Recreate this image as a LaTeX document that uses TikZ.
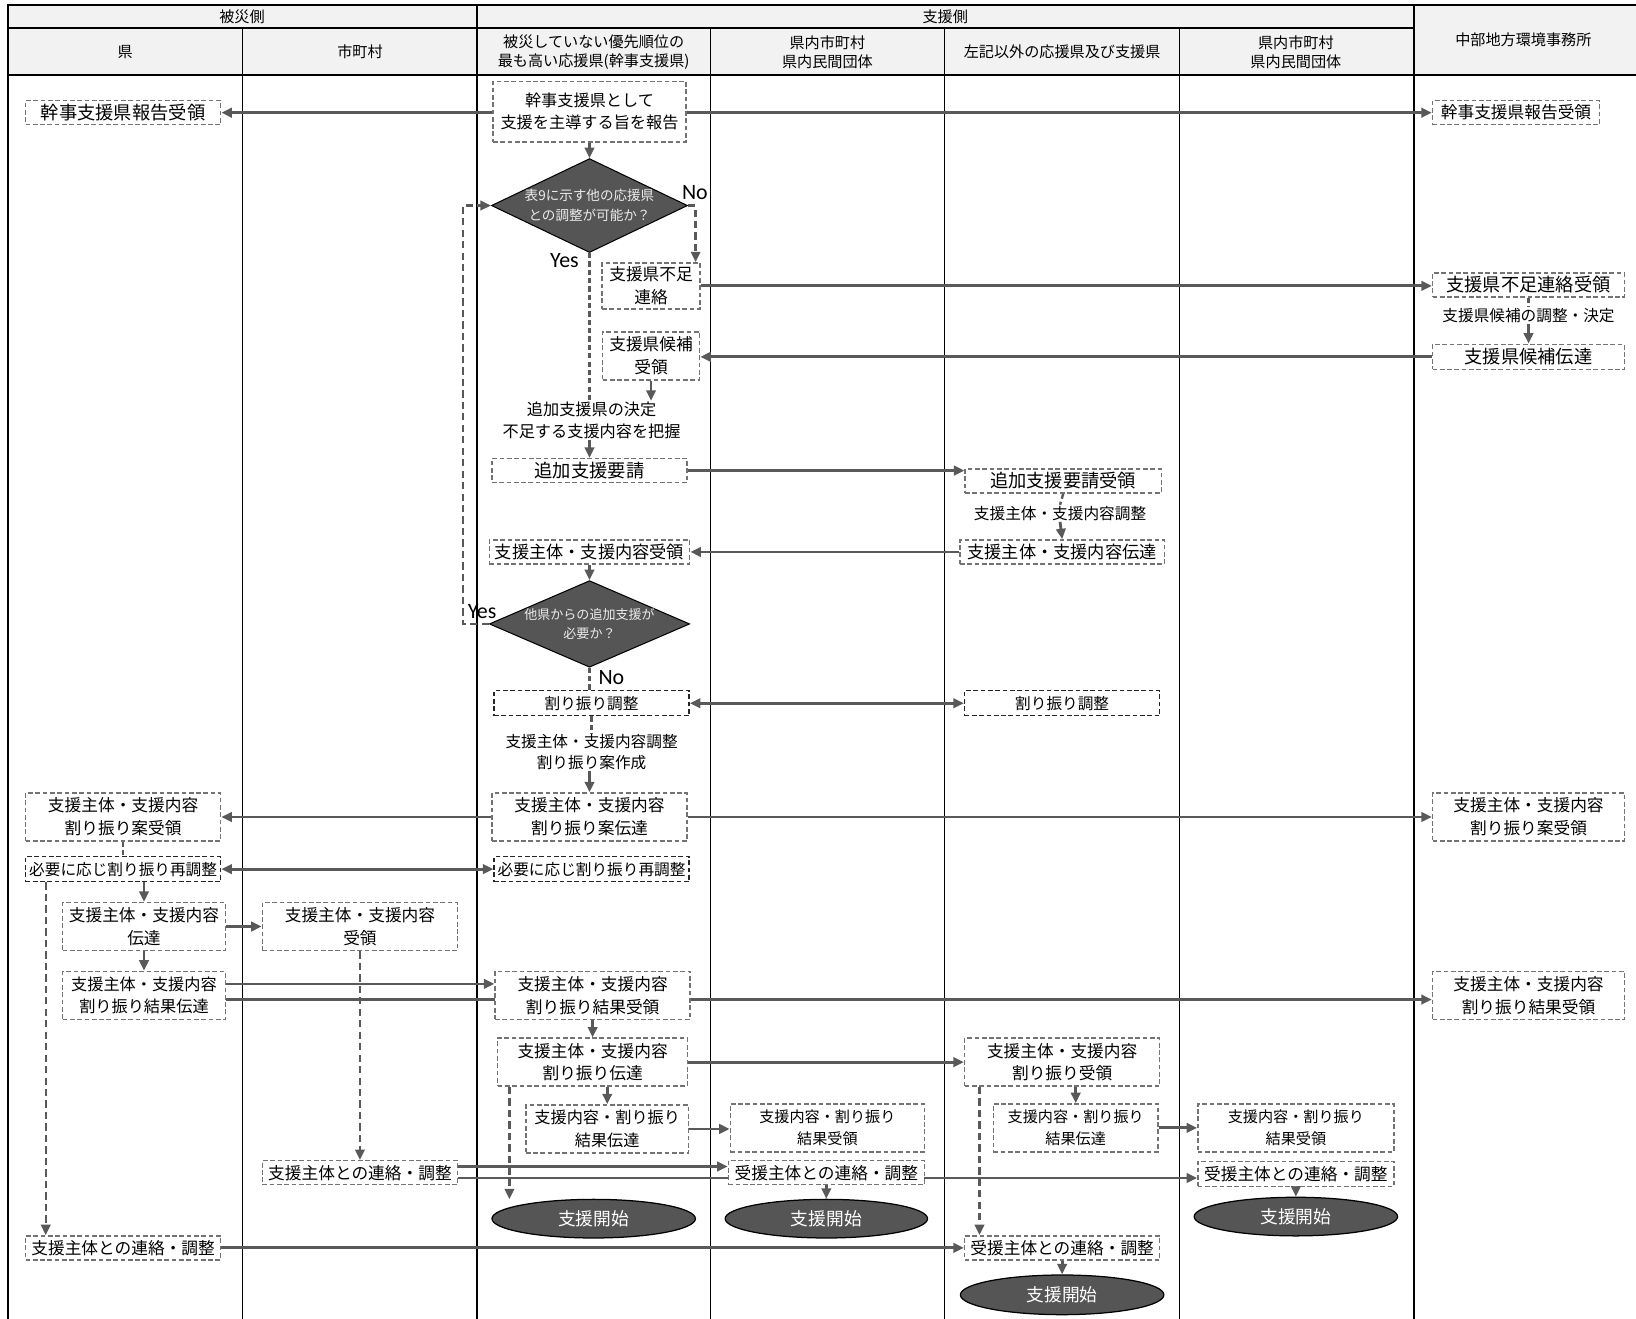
\documentclass[tikz,border=0pt]{standalone}
\usepackage{fontspec}
\setmainfont{Noto Sans CJK JP}
\newfontfamily\latinfont{Carlito}
\usepackage{tikz}
\usetikzlibrary{shapes.geometric}
\usetikzlibrary{arrows.meta}
\usetikzlibrary{backgrounds}
\definecolor{LineGray}{RGB}{89,89,89}
\definecolor{BoxGray}{RGB}{115,115,115}
\definecolor{DarkFill}{RGB}{85,85,85}
\definecolor{HeadFill}{RGB}{242,242,242}
\tikzstyle{Lane}=[black,line width=0.9pt]
\tikzstyle{LaneBold}=[black,line width=2pt]
\tikzstyle{HeadText}=[align=center,inner sep=1pt,font=\fontsize{14.5}{19}\selectfont]
\tikzstyle{StepBox}=[draw=BoxGray,dash pattern=on 4.5pt off 2.5pt,line width=1.4pt,fill=white,
align=center,inner sep=1pt,font=\fontsize{16}{22}\selectfont]
\tikzstyle{KeyBox}=[StepBox,draw=black!85,font=\fontsize{15}{20}\selectfont]
\tikzstyle{BigText}=[font=\fontsize{17.5}{22}\selectfont]
\tikzstyle{SmallText}=[font=\fontsize{14.5}{21}\selectfont]
\tikzstyle{NoteText}=[align=center,inner sep=1pt,font=\fontsize{15}{20}\selectfont]
\tikzstyle{Decision}=[diamond,draw=black,line width=1pt,fill=DarkFill,inner sep=0pt]
\tikzstyle{DecText}=[text=white!92!black,align=center,font=\fontsize{13}{19}\selectfont]
\tikzstyle{Terminal}=[ellipse,draw=black,line width=1.2pt,fill=DarkFill,text=white,
font=\fontsize{17}{20}\selectfont,minimum width=195pt,minimum height=37pt]
\tikzstyle{YesNo}=[inner sep=0pt,font=\latinfont\fontsize{21}{22}\selectfont]
\tikzstyle{Flow}=[LineGray,line width=2.7pt,-{Triangle[length=10pt,width=9pt]}]
\tikzstyle{FlowBoth}=[Flow,{Triangle[length=10pt,width=9pt]}-{Triangle[length=10pt,width=9pt]}]
\tikzstyle{FlowDash}=[LineGray,line width=2.3pt,dash pattern=on 7pt off 4pt,-{Triangle[length=10pt,width=9pt]}]
\tikzstyle{Tie}=[LineGray,line width=2.3pt,dash pattern=on 5pt off 3pt]

\begin{document}
\begin{tikzpicture}[x=1pt,y=-1pt]
        \useasboundingbox(0,0)rectangle(1568,1264);
        \begin{pgfonlayer}{background}
        \fill[HeadFill](8,5)rectangle(1568,72);
        \draw[Lane](232,27)--(232,1264) (681,27)--(681,1264) (905,27)--(905,1264) (1130,27)--(1130,1264);
        \draw[LaneBold](8,1264)--(8,5)--(1568,5) (8,27)--(1355,27) (8,72)--(1568,72)
            (457,5)--(457,1264) (1355,5)--(1355,1264);
        \end{pgfonlayer}
        \node[HeadText](hHisai)at(232,16){被災側};
        \node[HeadText](hShien)at(906,16){支援側};
        \node[HeadText](hKen)at(120,50){県};
        \node[HeadText](hShi)at(345,50){市町村};
        \node[HeadText](hKanji)at(569,50){被災していない優先順位の\\最も高い応援県(幹事支援県)};
        \node[HeadText](hNaiA)at(793,50){県内市町村\\県内民間団体};
        \node[HeadText](hOther)at(1018,50){左記以外の応援県及び支援県};
        \node[HeadText](hNaiB)at(1242,50){県内市町村\\県内民間団体};
        \node[HeadText](hChubu)at(1460,38){中部地方環境事務所};
        \node[StepBox,BigText,minimum width=187pt,minimum height=23pt](kRep)at(118,108){幹事支援県報告受領};
        \node[StepBox,font=\fontsize{15.5}{21}\selectfont,minimum width=185pt,minimum height=58pt](aLead)at(565,107){幹事支援県として\\支援を主導する旨を報告};
        \node[StepBox,font=\fontsize{16}{22}\selectfont,minimum width=160pt,minimum height=23pt](cRep)at(1453,108){幹事支援県報告受領};
        \node[Decision,minimum width=188pt,minimum height=90pt,label={[DecText]center:表9に示す他の応援県\\との調整が可能か？}](qOther)at(565,197){};
        \node[StepBox,minimum width=94pt,minimum height=44pt](aShort)at(624,274){支援県不足\\連絡};
        \node[StepBox,minimum width=93pt,minimum height=46pt](aCand)at(624,341){支援県候補\\受領};
        \node[StepBox,BigText,minimum width=184pt,minimum height=23pt](cShort)at(1465,273){支援県不足連絡受領};
        \node[NoteText](cAdj)at(1465,302){支援県候補の調整・決定};
        \node[StepBox,BigText,minimum width=184pt,minimum height=24pt](cCand)at(1465,342){支援県候補伝達};
        \node[NoteText,font=\fontsize{15.5}{21}\selectfont](aDecide)at(567,403){追加支援県の決定\\不足する支援内容を把握};
        \node[StepBox,BigText,minimum width=187pt,minimum height=23pt](aReq)at(565,451){追加支援要請};
        \node[StepBox,BigText,minimum width=188pt,minimum height=23pt](oReq)at(1019,461){追加支援要請受領};
        \node[NoteText](oAdj)at(1016,492){支援主体・支援内容調整};
        \node[StepBox,font=\fontsize{16.5}{22}\selectfont,minimum width=196pt,minimum height=23pt](oSend)at(1018,529){支援主体・支援内容伝達};
        \node[StepBox,font=\fontsize{16.5}{22}\selectfont,minimum width=192pt,minimum height=23pt](aRecv)at(565,529){支援主体・支援内容受領};
        \node[Decision,minimum width=192pt,minimum height=83pt,label={[DecText,font=\fontsize{12.5}{19}\selectfont]center:他県からの追加支援が\\必要か？}](qMore)at(565,598){};
        \node[KeyBox,minimum width=187pt,minimum height=24pt](aAlloc)at(567,674){割り振り調整};
        \node[KeyBox,minimum width=187pt,minimum height=24pt](oAlloc)at(1018,674){割り振り調整};
        \node[NoteText](aPlan)at(567,721){支援主体・支援内容調整\\割り振り案作成};
        \node[StepBox,minimum width=187pt,minimum height=46pt](aPlanSend)at(565,783){支援主体・支援内容\\割り振り案伝達};
        \node[StepBox,minimum width=187pt,minimum height=46pt](kPlanRecv)at(118,783){支援主体・支援内容\\割り振り案受領};
        \node[StepBox,minimum width=184pt,minimum height=46pt](cPlanRecv)at(1465,783){支援主体・支援内容\\割り振り案受領};
        \node[KeyBox,minimum width=187pt,minimum height=24pt](kReAdj)at(118,833){必要に応じ割り振り再調整};
        \node[KeyBox,minimum width=187pt,minimum height=24pt](aReAdj)at(567,833){必要に応じ割り振り再調整};
        \node[StepBox,minimum width=156pt,minimum height=46pt](kSend)at(138,888){支援主体・支援内容\\伝達};
        \node[StepBox,minimum width=187pt,minimum height=46pt](mRecv)at(345,888){支援主体・支援内容\\受領};
        \node[StepBox,font=\fontsize{15.5}{22}\selectfont,minimum width=156pt,minimum height=46pt](kResSend)at(138,954){支援主体・支援内容\\割り振り結果伝達};
        \node[StepBox,minimum width=187pt,minimum height=46pt](aResRecv)at(568,954){支援主体・支援内容\\割り振り結果受領};
        \node[StepBox,minimum width=184pt,minimum height=46pt](cResRecv)at(1465,954){支援主体・支援内容\\割り振り結果受領};
        \node[StepBox,minimum width=182pt,minimum height=46pt](aAllocSend)at(568,1018){支援主体・支援内容\\割り振り伝達};
        \node[StepBox,minimum width=187pt,minimum height=46pt](oAllocRecv)at(1018,1018){支援主体・支援内容\\割り振り受領};
        \node[StepBox,font=\fontsize{15.5}{22}\selectfont,minimum width=156pt,minimum height=46pt](aResSend)at(582,1082){支援内容・割り振り\\結果伝達};
        \node[StepBox,SmallText,minimum width=186pt,minimum height=46pt](nResRecvA)at(793,1081){支援内容・割り振り\\結果受領};
        \node[StepBox,SmallText,minimum width=158pt,minimum height=46pt](oResSend)at(1031,1081){支援内容・割り振り\\結果伝達};
        \node[StepBox,SmallText,minimum width=188pt,minimum height=46pt](nResRecvB)at(1242,1081){支援内容・割り振り\\結果受領};
        \node[StepBox,minimum width=187pt,minimum height=23pt](mLiaison)at(345,1124){支援主体との連絡・調整};
        \node[StepBox,minimum width=188pt,minimum height=23pt](nLiaisonA)at(792,1124){受援主体との連絡・調整};
        \node[StepBox,minimum width=188pt,minimum height=24pt](nLiaisonB)at(1242,1125){受援主体との連絡・調整};
        \node[Terminal](aStart)at(569,1168){支援開始};
        \node[Terminal,minimum width=194pt](nStartA)at(792,1168){支援開始};
        \node[Terminal](nStartB)at(1242,1166){支援開始};
        \node[StepBox,minimum width=187pt,minimum height=23pt](kLiaison)at(118,1196){支援主体との連絡・調整};
        \node[StepBox,minimum width=187pt,minimum height=23pt](oLiaison)at(1018,1196){受援主体との連絡・調整};
        \node[Terminal,minimum height=38pt](oStart)at(1018,1241){支援開始};
        \node[YesNo](lNoA)at(666,185){No};
        \node[YesNo](lYesA)at(541,250){Yes};
        \node[YesNo](lYesB)at(462,586){Yes};
        \node[YesNo](lNoB)at(586,649){No};
        \begin{pgfonlayer}{background}
        \draw[Flow](aLead.west|-kRep)--(kRep.east);
        \draw[Flow](aLead.east|-cRep)--(cRep.west);
        \draw[Flow](aLead.south)--(qOther.north);
        \draw[FlowDash](qOther.east)-|([xshift=-5pt]aShort.north east);
        \draw[Tie](qOther.south)--(qOther.south|-aDecide.north);
        \draw[Flow](aShort.east)--(aShort.east-|cShort.west);
        \draw[Tie](cShort.south)--(cAdj.north);
        \draw[Flow](cAdj.south)--(cCand.north);
        \draw[Flow](cCand.west)--(cCand.west-|aCand.east);
        \draw[Flow](aCand.south)--(aCand.south|-aDecide.north);
        \draw[Flow](aDecide.south-|aReq)--(aReq.north);
        \draw[Flow](aReq.east)--(aReq.east-|oReq.west);
        \draw[Tie](oReq.south)--(oAdj.north);
        \draw[Flow](oAdj.south)--(oSend.north);
        \draw[Flow](oSend.west)--(aRecv.east);
        \draw[Flow](aRecv.south)--(qMore.north);
        \draw[FlowDash](qMore.west)--++(-25,0)|-(qOther.west);
        \draw[Tie](qMore.south)--(qMore.south|-aAlloc.north);
        \draw[FlowBoth](aAlloc.east)--(oAlloc.west);
        \draw[Tie](aAlloc.south)--(aAlloc.south|-aPlan.north);
        \draw[Flow](aPlan.south-|aPlanSend)--(aPlanSend.north);
        \draw[Flow](aPlanSend.west)--(kPlanRecv.east);
        \draw[Flow](aPlanSend.east)--(aPlanSend.east-|cPlanRecv.west);
        \draw[Tie](kPlanRecv.south)--(kReAdj.north);
        \draw[FlowBoth](kReAdj.east)--(aReAdj.west);
        \draw[Flow](kSend.north|-kReAdj.south)--(kSend.north);
        \draw[Flow](kSend.east)--(kSend.east-|mRecv.west);
        \draw[Flow](kSend.south)--(kResSend.north);
        \draw[Flow]([yshift=11pt]kResSend.east)--([yshift=11pt]kResSend.east-|aResRecv.west);
        \draw[Flow]([yshift=-4pt]kResSend.east)--([yshift=-4pt]kResSend.east-|cResRecv.west);
        \draw[FlowDash](mRecv.south)--(mLiaison.north);
        \draw[Flow](aResRecv.south)--(aAllocSend.north);
        \draw[Flow](aAllocSend.east)--(aAllocSend.east-|oAllocRecv.west);
        \draw[Flow](aResSend.north|-aAllocSend.south)--(aResSend.north);
        \draw[Flow](aResSend.east)--(aResSend.east-|nResRecvA.west);
        \draw[FlowDash]([xshift=12pt]aAllocSend.south west)--([xshift=12pt]aAllocSend.south west|-aStart.140);
        \draw[Flow]([yshift=6pt]mLiaison.east)--([yshift=6pt]mLiaison.east-|nLiaisonA.west);
        \draw[Flow]([yshift=-5pt]mLiaison.east)--([yshift=-5pt]mLiaison.east-|nLiaisonB.west);
        \draw[Flow](nLiaisonA.south)--(nStartA.north);
        \draw[Flow](oResSend.north|-oAllocRecv.south)--(oResSend.north);
        \draw[Flow](oResSend.east)--(oResSend.east-|nResRecvB.west);
        \draw[FlowDash]([xshift=15pt]oAllocRecv.south west)--([xshift=15pt]oAllocRecv.south west|-oLiaison.north);
        \draw[Flow](nLiaisonB.south)--(nStartB.north);
        \draw[Flow](oLiaison.south)--(oStart.north);
        \draw[FlowDash]([xshift=20pt]kReAdj.south west)--([xshift=20pt]kReAdj.south west|-kLiaison.north);
        \draw[Flow](kLiaison.east)--(oLiaison.west);
        \end{pgfonlayer}
    \end{tikzpicture}
\end{document}
